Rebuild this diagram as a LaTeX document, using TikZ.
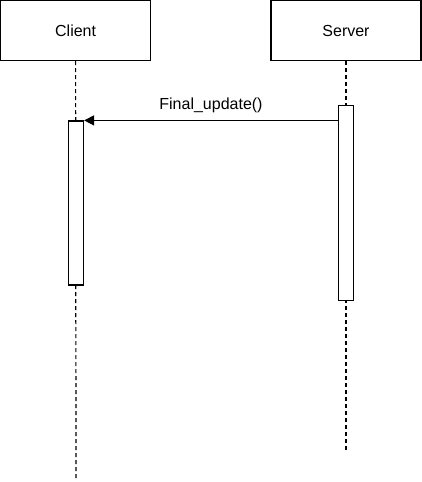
\documentclass[tikz,border=0pt]{standalone}
\usepackage{fontspec}
\setmainfont{Liberation Sans}
\usetikzlibrary{arrows.meta,positioning}

\begin{document}
\begin{tikzpicture}[x=1pt,y=-1pt,>={Triangle[length=10pt,width=10pt]},font=\fontsize{16}{19}\selectfont]
  \tikzstyle{actor}=[rectangle,draw,line width=1.2pt,minimum width=150pt,minimum height=60pt,inner sep=0pt]
  \tikzstyle{activation}=[rectangle,draw,fill=white,line width=1.2pt,minimum width=15pt,inner sep=0pt]
  \tikzstyle{lifeline}=[line width=1.2pt,dash pattern=on 4pt off 3pt]

    \useasboundingbox (0,0) rectangle (422,482);

    \node [actor] (client) at (75.6,30.6) {Client};
    \node [actor] (server) at (346,30.6) {Server};

    \coordinate (clientend) at (76,480);
    \coordinate (serverend) at (346,452);
    \draw [lifeline] (client.south) -- (clientend); %client
    \draw [lifeline] (server.south) -- (serverend); %server

    \node [activation,minimum height=164pt] (clientact) at (76,203) {};
    \node [activation,minimum height=195pt] (serveract) at (346,203) {};

    \draw [->,line width=1.2pt] (serveract.west |- clientact.north) -- (clientact.north east)
        node [midway,above=4pt] {Final\_update()};
\end{tikzpicture}
\end{document}
